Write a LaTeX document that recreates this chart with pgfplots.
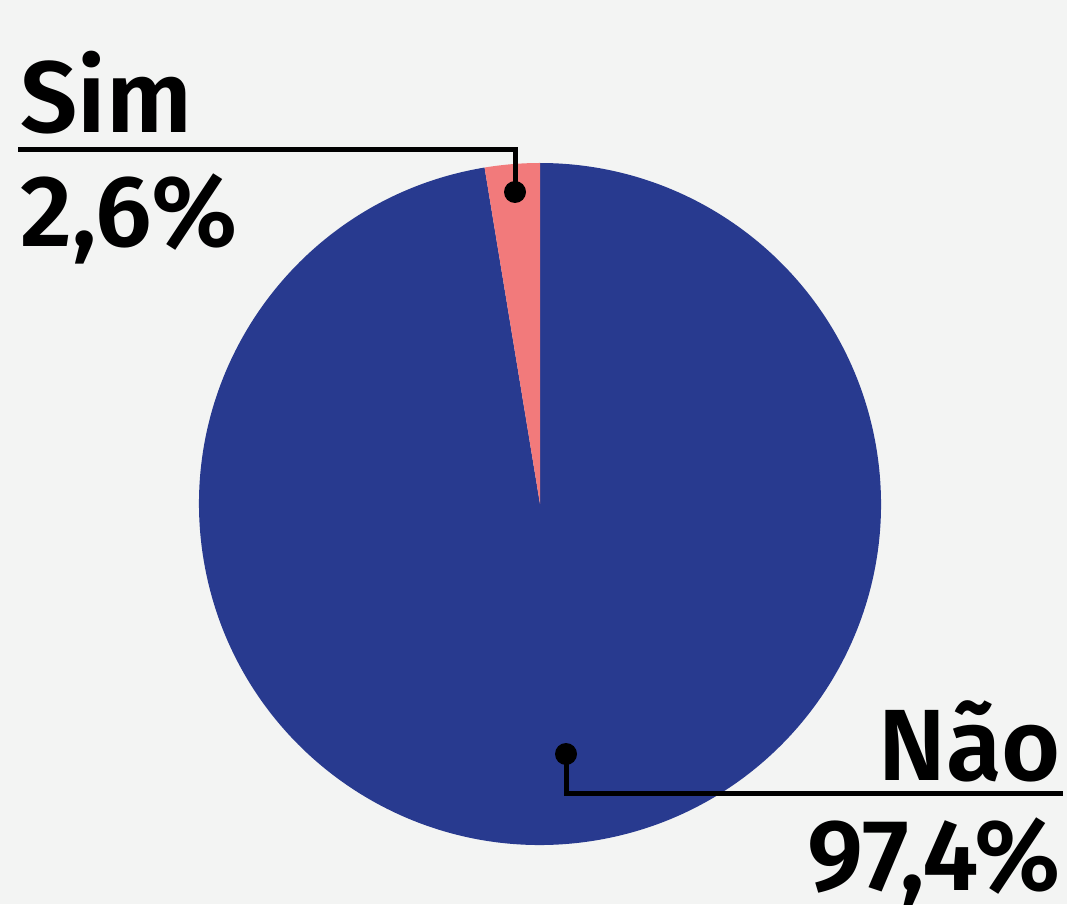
\documentclass[border=0pt]{standalone}
\usepackage{fontspec}
\setmainfont{Fira Sans}[BoldFont={Fira Sans SemiBold}]
\usepackage{pgfplots}
\usepackage{pgfplotstable}
\pgfplotsset{compat=1.18}
\definecolor{bg}{HTML}{F3F4F3}
\definecolor{blue}{HTML}{283A8F}
\definecolor{pink}{HTML}{F27A7B}
\pgfplotstableread{
label value
Sim 2.6
Nao 97.4
}\piedata
\begin{document}%
\begin{tikzpicture}
\pgfplotstablegetelem{0}{value}\of\piedata
\pgfmathsetmacro{\simval}{\pgfplotsretval}
\pgfplotstablegetelem{1}{value}\of\piedata
\pgfmathsetmacro{\naoval}{\pgfplotsretval}
\pgfmathsetmacro{\aA}{90}
\pgfmathsetmacro{\aB}{90+3.6*\simval}
\pgfmathsetmacro{\aC}{\aB+3.6*\naoval}
\fill[bg] (0,0) rectangle (800.25pt,678pt);
\begin{axis}[
  at={(0,0)}, anchor=south west,
  width=800.25pt, height=678pt, scale only axis,
  xmin=0, xmax=1067, ymin=0, ymax=904,
  hide axis, clip=false,
]
\fill[blue] (axis cs:540,400) -- ++(\aB:255.75pt) arc[start angle=\aB, end angle=\aC, radius=255.75pt] -- cycle;
\fill[pink] (axis cs:540,400) -- ++(\aA:255.75pt) arc[start angle=\aA, end angle=\aB, radius=255.75pt] -- cycle;
\draw[line width=3.75pt] (axis cs:18,754) -| (axis cs:515,712);
\fill (axis cs:515,712) circle[radius=8.25pt];
\draw[line width=3.75pt] (axis cs:566,150) |- (axis cs:1063,111);
\fill (axis cs:566,150) circle[radius=8.25pt];
\node[anchor=base west, inner sep=0pt, font=\fontsize{76}{80}\selectfont\bfseries] at (axis cs:20,771) {Sim};
\node[anchor=base west, inner sep=0pt, font=\fontsize{76}{80}\selectfont\bfseries] at (axis cs:20,657) {2,6\%};
\node[anchor=base east, inner sep=0pt, font=\fontsize{76}{80}\selectfont\bfseries] at (axis cs:1061,124) {Não};
\node[anchor=base east, inner sep=0pt, font=\fontsize{76}{80}\selectfont\bfseries] at (axis cs:1061,14) {97,4\%};
\end{axis}
\pgfresetboundingbox
\path[use as bounding box] (0,0) rectangle (800.25pt,678pt);
\end{tikzpicture}%
\end{document}
